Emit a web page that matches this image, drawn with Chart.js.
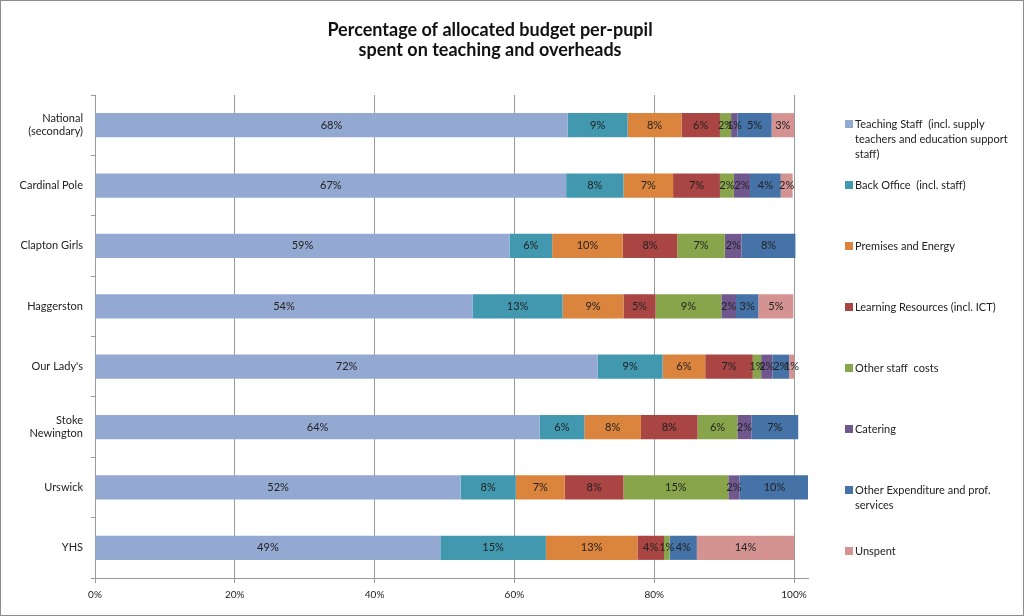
<!DOCTYPE html>
<html>
<head>
<meta charset="utf-8">
<script src="https://cdn.jsdelivr.net/npm/chart.js@4/dist/chart.umd.min.js"></script>
<style>
html,body{margin:0;padding:0;background:#fff;}
canvas{display:block;}
</style>
</head>
<body>
<canvas id="c" width="1024" height="616"></canvas>
<script>
const titleLines = ['Percentage of allocated budget per-pupil', 'spent on teaching and overheads'];
const categories = [['National', '(secondary)'], 'Cardinal Pole', 'Clapton Girls', 'Haggerston', "Our Lady's", ['Stoke', 'Newington'], 'Urswick', 'YHS'];
const xTicks = [0, 20, 40, 60, 80, 100];

const seriesNames = [
  ['Teaching Staff  (incl. supply', 'teachers and education support', 'staff)'],
  ['Back Office  (incl. staff)'],
  ['Premises and Energy'],
  ['Learning Resources (incl. ICT)'],
  ['Other staff  costs'],
  ['Catering'],
  ['Other Expenditure and prof.', 'services'],
  ['Unspent']
];
const teaching   = [67.6, 67.4, 59.3, 54.0, 71.9, 63.6, 52.3, 49.4];
const backOffice = [8.6, 8.2, 6.1, 12.9, 9.3, 6.4, 7.9, 15.1];
const premises   = [7.7, 7.1, 10.1, 8.7, 6.1, 8.1, 7.0, 13.1];
const learning   = [5.5, 6.7, 7.8, 4.6, 6.8, 8.1, 8.4, 3.8];
const otherStaff = [1.6, 2.0, 6.8, 9.4, 1.2, 5.7, 15.0, 0.8];
const catering   = [0.9, 2.3, 2.4, 2.1, 1.6, 2.0, 1.6, 0];
const otherExp   = [4.9, 4.4, 7.7, 3.2, 2.4, 6.7, 10.0, 3.9];
const unspent    = [3.2, 1.7, 0, 5.0, 0.7, 0, 0, 13.9];

const seriesValues = [teaching, backOffice, premises, learning, otherStaff, catering, otherExp, unspent];
const seriesColors = ['#93A9D1', '#4298AF', '#DB843D', '#A94543', '#88A54C', '#70588F', '#4572A7', '#D49391'];

const FONT = 'Lato, "Open Sans", sans-serif';

const labelsPlugin = {
  id: 'segLabels',
  afterDatasetsDraw(chart) {
    const ctx = chart.ctx;
    ctx.save();
    ctx.font = '11px ' + FONT;
    ctx.fillStyle = '#222';
    ctx.textAlign = 'center';
    ctx.textBaseline = 'middle';
    chart.data.datasets.forEach((ds, di) => {
      const meta = chart.getDatasetMeta(di);
      meta.data.forEach((el, i) => {
        const v = ds.data[i];
        if (!v) return;
        const p = el.getProps(['x', 'base', 'y'], true);
        ctx.fillText(Math.round(v) + '%', (p.x + p.base) / 2, p.y);
      });
    });
    ctx.restore();
  }
};

const decoPlugin = {
  id: 'deco',
  afterDraw(chart) {
    const ctx = chart.ctx;
    ctx.save();
    // title
    ctx.font = 'bold 18px ' + FONT;
    ctx.fillStyle = '#111';
    ctx.textAlign = 'center';
    ctx.textBaseline = 'middle';
    ctx.fillText(titleLines[0], 490, 30);
    ctx.fillText(titleLines[1], 490, 50);
    // legend
    ctx.font = '11px ' + FONT;
    ctx.textAlign = 'left';
    seriesNames.forEach((lines, i) => {
      const y = 124 + 61 * i;
      ctx.fillStyle = seriesColors[i];
      ctx.fillRect(845, y - 4, 8, 8);
      ctx.fillStyle = '#222';
      lines.forEach((t, j) => ctx.fillText(t, 855, y + j * 15));
    });
    // outer border
    ctx.strokeStyle = '#8c8c8c';
    ctx.lineWidth = 1;
    ctx.strokeRect(0.5, 0.5, 1023, 615);
    ctx.restore();
  }
};

new Chart(document.getElementById('c'), {
  type: 'bar',
  data: {
    labels: categories,
    datasets: seriesValues.map((vals, i) => ({
      label: seriesNames[i].join(' '),
      data: vals,
      backgroundColor: seriesColors[i],
      borderWidth: 0,
      categoryPercentage: 1,
      barPercentage: 0.4
    }))
  },
  options: {
    indexAxis: 'y',
    responsive: false,
    animation: false,
    layout: { padding: { top: 95, right: 216, bottom: 0, left: 0 } },
    plugins: {
      legend: { display: false },
      title: { display: false },
      tooltip: { enabled: false }
    },
    scales: {
      x: {
        stacked: true,
        min: 0,
        max: 102,
        afterBuildTicks(scale) { scale.ticks = xTicks.map(v => ({ value: v })); },
        afterFit(scale) { scale.height = 38; },
        ticks: {
          callback: v => v + '%',
          font: { family: FONT, size: 10 },
          color: '#222',
          padding: 6,
          maxRotation: 0
        },
        grid: { color: '#9a9a9a', tickLength: 5, drawTicks: true },
        border: { color: '#9a9a9a' }
      },
      y: {
        stacked: true,
        afterFit(scale) { scale.width = 95; },
        ticks: {
          font: { family: FONT, size: 11 },
          color: '#222',
          padding: 8
        },
        grid: { drawOnChartArea: false, tickLength: 4, color: '#9a9a9a', offset: true },
        border: { color: '#9a9a9a' }
      }
    }
  },
  plugins: [labelsPlugin, decoPlugin]
});
</script>
</body>
</html>
